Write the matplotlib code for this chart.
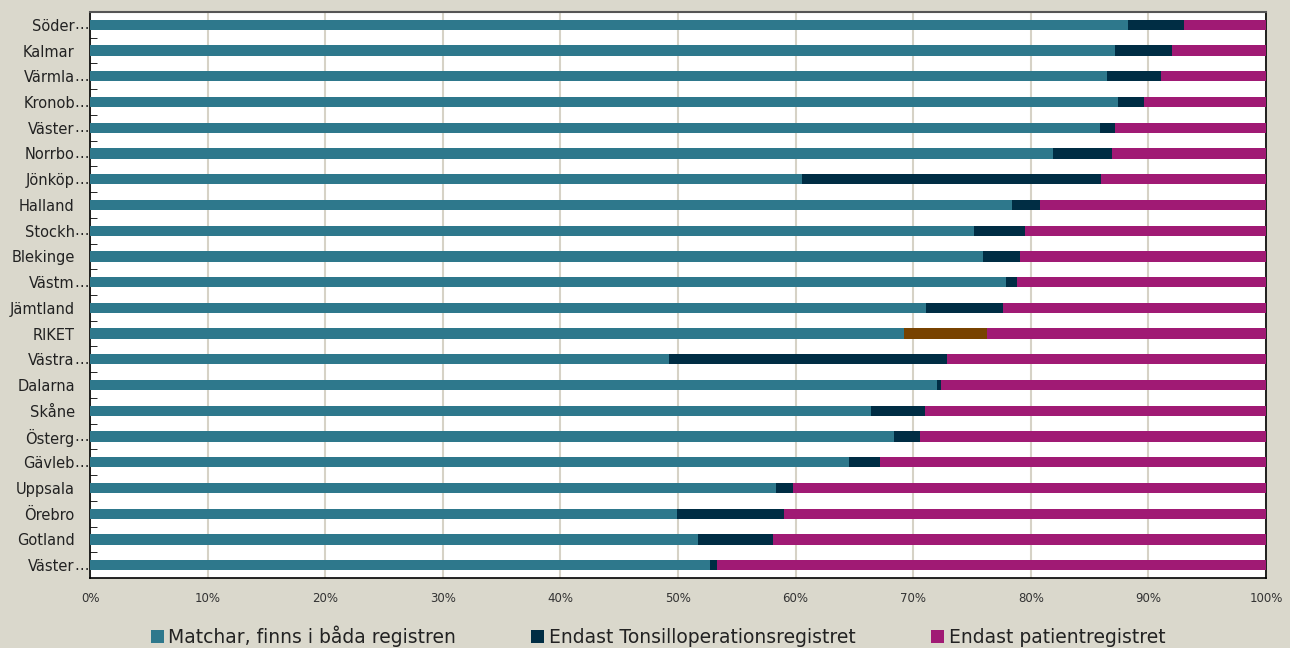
import matplotlib.pyplot as plt
import numpy as np
from matplotlib.patches import Patch
from matplotlib.ticker import MultipleLocator, FuncFormatter

# Regions top to bottom, as shown in the chart
regions = ["Söder…", "Kalmar", "Värmla…", "Kronob…", "Väster…", "Norrbo…",
           "Jönköp…", "Halland", "Stockh…", "Blekinge", "Västm…", "Jämtland",
           "RIKET", "Västra…", "Dalarna", "Skåne", "Österg…", "Gävleb…",
           "Uppsala", "Örebro", "Gotland", "Väster…"]

# percent matched in both registers
matched = [88.3, 87.2, 86.5, 87.4, 85.9, 81.9, 60.5, 78.4, 75.2, 75.9, 77.9, 71.1,
           69.2, 49.2, 72.0, 66.4, 68.4, 64.5, 58.3, 49.9, 51.7, 52.7]
# percent only in tonsil operation register
tonsil_only = [4.7, 4.8, 4.6, 2.2, 1.3, 5.0, 25.5, 2.4, 4.3, 3.2, 0.9, 6.5,
               7.1, 23.7, 0.4, 4.6, 2.2, 2.7, 1.5, 9.1, 6.4, 0.6]
# remainder = only in patient register
patient_only = [100 - m - t for m, t in zip(matched, tonsil_only)]

series_names = ["Matchar, finns i båda registren",
                "Endast Tonsilloperationsregistret",
                "Endast patientregistret"]

c_teal = "#2E788C"
c_navy = "#002D44"
c_pink = "#A01A74"
c_brown = "#784200"
bg = "#DAD8CC"

plt.rcParams['font.family'] = ['DejaVu Sans']

fig = plt.figure(figsize=(12.9, 6.48), dpi=100, facecolor=bg)
ax = fig.add_axes([0.0698, 0.108, 0.9116, 0.8735])
ax.set_facecolor("white")

y = np.arange(len(regions))
h = 0.4
mid_colors = [c_brown if r == "RIKET" else c_navy for r in regions]

ax.barh(y, matched, height=h, color=c_teal, zorder=3)
ax.barh(y, tonsil_only, left=matched, height=h, color=mid_colors, zorder=3)
left2 = [m + t for m, t in zip(matched, tonsil_only)]
ax.barh(y, patient_only, left=left2, height=h, color=c_pink, zorder=3)

ax.set_xlim(0, 100)
ax.set_ylim(len(regions) - 0.5, -0.5)

ax.xaxis.set_major_locator(MultipleLocator(10))
ax.xaxis.set_major_formatter(FuncFormatter(lambda v, p: f"{int(v)}%"))
ax.grid(axis='x', color="#D6D2C6", linewidth=1.5, zorder=0)
ax.tick_params(axis='x', length=0, pad=10, labelsize=8.5, colors="#333333")

# labels: base text right aligned, the ellipsis hangs out towards the axis
ax.set_yticks(y)
ax.set_yticklabels([r.rstrip("…") for r in regions], fontsize=10.5, color="#222222")
ax.tick_params(axis='y', which='major', length=0, pad=11)
for i, r in enumerate(regions):
    if r.endswith("…"):
        ax.annotate("…", xy=(0, i), xycoords=('axes fraction', 'data'),
                    xytext=(-11, 0), textcoords='offset points',
                    ha='left', va='center', fontsize=10.5, color="#222222")

ax.set_yticks(np.arange(len(regions) - 1) + 0.5, minor=True)
ax.tick_params(axis='y', which='minor', length=5, direction='in', color='black')

for s in ['left', 'right', 'bottom']:
    ax.spines[s].set_color('black')
    ax.spines[s].set_linewidth(1.2)
ax.spines['top'].set_color('#555555')
ax.spines['top'].set_linewidth(1.5)

handles = [Patch(facecolor=c, edgecolor='none') for c in (c_teal, c_navy, c_pink)]
fig.legend(handles, series_names, loc='lower center', bbox_to_anchor=(0.51, -0.025),
           ncol=3, frameon=False, fontsize=13.5, handlelength=0.7, handleheight=0.7,
           handletextpad=0.25, columnspacing=4.0, labelcolor="#222222")

fig.savefig("out.png", dpi=100, facecolor=bg)
